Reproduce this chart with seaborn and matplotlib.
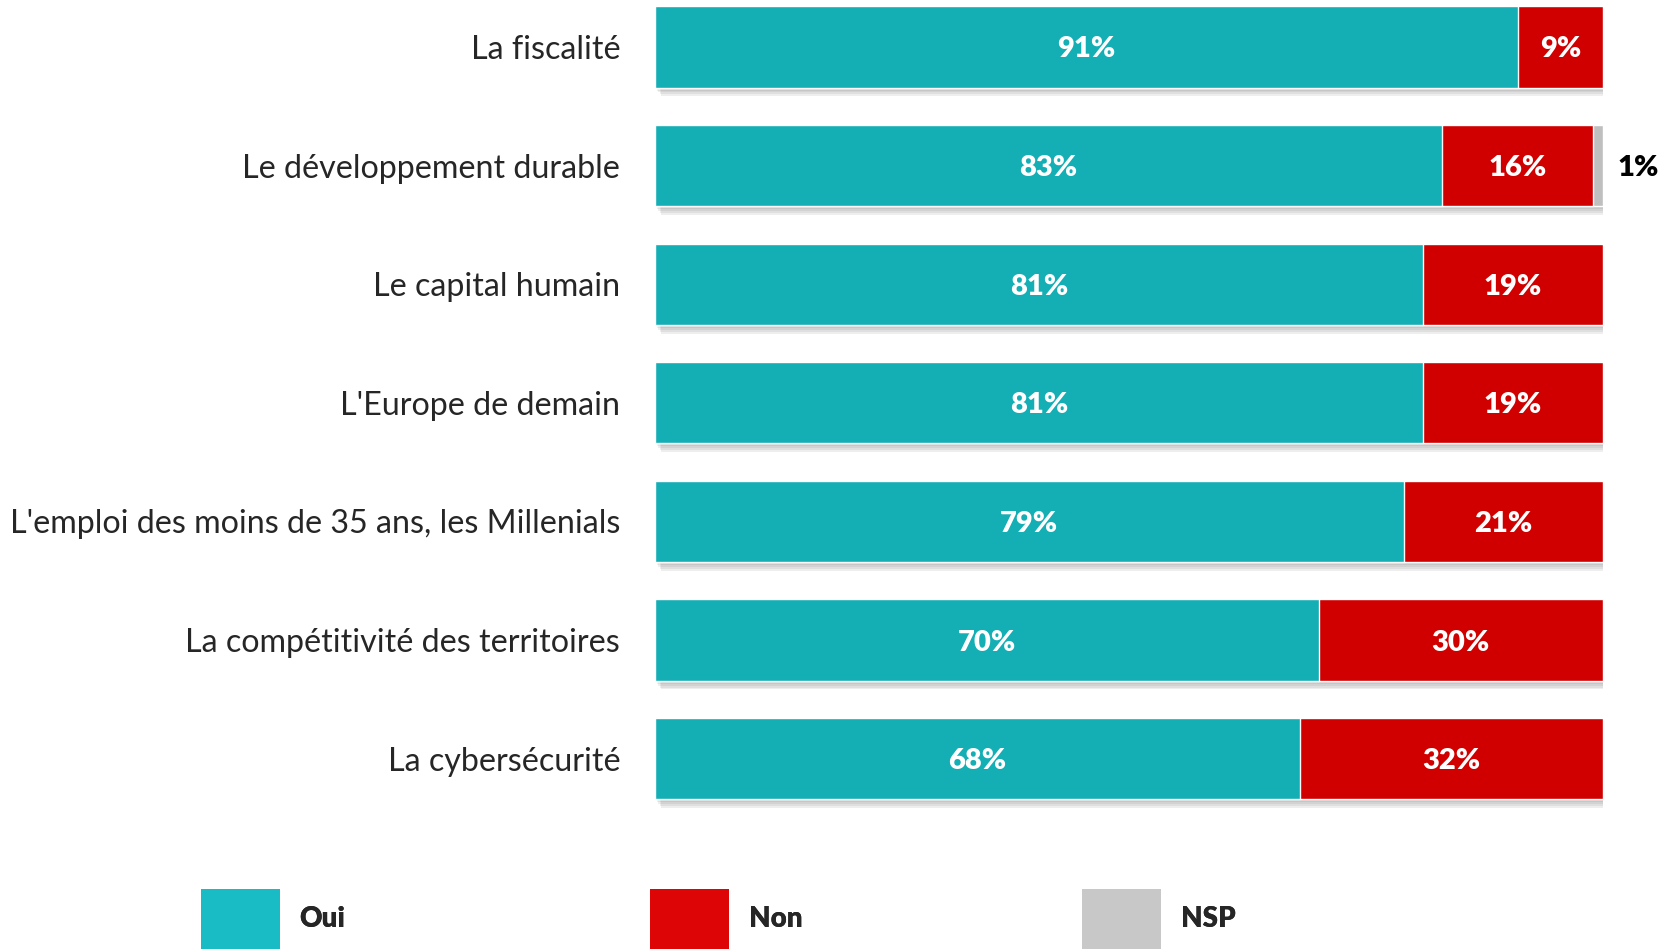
import pandas as pd
import matplotlib.pyplot as plt
import seaborn as sns
from matplotlib.patches import Patch
import matplotlib.patheffects as pe

sns.set_theme(style="white")
plt.rcParams['font.family'] = ['Lato', 'DejaVu Sans']

# ---- données ----
themes = [
    "La fiscalité",
    "Le développement durable",
    "Le capital humain",
    "L'Europe de demain",
    "L'emploi des moins de 35 ans, les Millenials",
    "La compétitivité des territoires",
    "La cybersécurité",
]
oui = [91, 83, 81, 81, 79, 70, 68]
non = [9, 16, 19, 19, 21, 30, 32]
nsp = [0, 1, 0, 0, 0, 0, 0]

c_oui, c_non, c_nsp = "#14AEB5", "#D00000", "#BFBFBF"
leg_colors = ["#19BBC5", "#DD0505", "#C8C8C8"]

df = pd.DataFrame({"theme": themes, "oui": oui, "non": non, "nsp": nsp})
df["cum_non"] = df["oui"] + df["non"]
df["total"] = df["cum_non"] + df["nsp"]

fig = plt.figure(figsize=(16.75, 9.49), dpi=100)
ax = fig.add_axes([0.391, 0.138, 0.566, 0.862])

bw = 0.685
# barre totale (NSP) avec ombre douce, puis Non, puis Oui par-dessus
sns.barplot(data=df, x="total", y="theme", orient="h", color=c_nsp,
            width=bw, saturation=1, ax=ax)
shadow = [pe.SimplePatchShadow(offset=(o, -1.4 * o), shadow_rgbFace="#777777", alpha=0.12)
          for o in (4.5, 3.5, 2.5, 1.5)]
for p in ax.patches:
    p.set_path_effects(shadow + [pe.Normal()])
sns.barplot(data=df, x="cum_non", y="theme", orient="h", color=c_non,
            width=bw, saturation=1, ax=ax)
sns.barplot(data=df, x="oui", y="theme", orient="h", color=c_oui,
            width=bw, saturation=1, ax=ax)

# étiquettes de valeurs
for i, row in df.iterrows():
    ax.text(row["oui"] / 2, i, f"{row['oui']}%", ha="center", va="center_baseline",
            color="white", fontsize=21, fontweight="heavy")
    ax.text(row["oui"] + row["non"] / 2, i, f"{row['non']}%", ha="center",
            va="center_baseline", color="white", fontsize=21, fontweight="heavy")
    if row["nsp"] > 0:
        ax.text(row["total"] + 1.5, i, f"{row['nsp']}%", ha="left", va="center_baseline",
                color="black", fontsize=21, fontweight="heavy")

ax.set_xlim(0, 100)
ax.set_ylim(6.5, -0.396)
ax.set_xlabel("")
ax.set_ylabel("")
ax.set_xticks([])
ax.tick_params(axis="y", length=0, pad=25, labelsize=23.2)
sns.despine(ax=ax, left=True, bottom=True)

# légende
leg_labels = ["Oui", "Non", "NSP"]
leg_x = [201, 650, 1082]
for lab, col, x in zip(leg_labels, leg_colors, leg_x):
    lg = fig.legend(handles=[Patch(facecolor=col, edgecolor="none", label=lab)],
                    loc="center left", bbox_to_anchor=(x / 1675, 1 - 919 / 949),
                    frameon=False, borderpad=0, borderaxespad=0,
                    handlelength=2.85, handleheight=2.9, handletextpad=0.7,
                    prop={"size": 20, "weight": "heavy"})
    fig.add_artist(lg)

fig.savefig("out.png", dpi=100)
